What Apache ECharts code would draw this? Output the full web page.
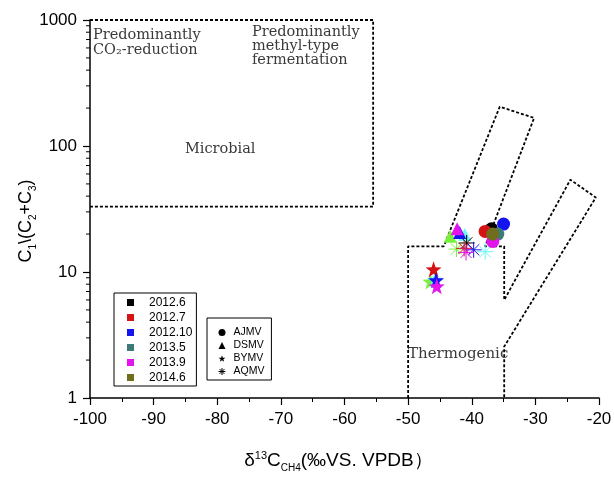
<!DOCTYPE html>
<html>
<head>
<meta charset="utf-8">
<script src="https://cdn.jsdelivr.net/npm/echarts@6/dist/echarts.min.js"></script>
<style>
  html, body { margin: 0; padding: 0; background: #fff; }
  #chart { width: 614px; height: 477px; }
</style>
</head>
<body>
<div id="chart"></div>
<script>
// Sampling campaigns and gas-source sites
const dateNames = ['2012.6', '2012.7', '2012.10', '2013.5', '2013.9', '2014.6'];
const siteNames = ['AJMV', 'DSMV', 'BYMV', 'AQMV'];

// δ13C-CH4 (x) and C1/(C2+C3) (y), one entry per site in siteNames order
const x_2012_6 = [-36.9, null, null, -40.8];
const y_2012_6 = [22.0, null, null, 17.0];
const x_2012_7 = [-37.9, null, -46.0, -41.2];
const y_2012_7 = [21.0, null, 10.5, 15.4];
const x_2012_10 = [-35.0, -41.9, -45.6, -39.7];
const y_2012_10 = [24.0, 20.6, 8.6, 15.0];
const x_2013_5 = [-35.9, null, null, null];
const y_2013_5 = [20.0, null, null, null];
const x_2013_9 = [-36.7, -42.3, -45.5, -40.9];
const y_2013_9 = [17.5, 22.0, 7.7, 14.3];
const x_2014_6 = [-36.7, null, null, null];
const y_2014_6 = [20.0, null, null, null];
// extra samples drawn in light green and cyan
const x_lime = [null, -43.4, -46.5, -42.4];
const y_lime = [null, 19.2, 8.4, 15.2];
const x_cyan = [null, -41.1, -45.8, -37.9];
const y_cyan = [null, 19.8, 8.7, 14.5];

// Genetic-field boundaries
const microbialX = [-100, -55.5, -55.5, -100];
const microbialY = [1000, 1000, 33, 33];
const thermoX = [-50, -50, -44.4, -35.6, -30.2, -37.9, -34.9, -34.9, -24.5, -20.5, -34.9, -34.9];
const thermoY = [1, 16, 16, 205, 167, 16, 16, 6.0, 54, 39, 2.56, 1];

// log-axis minor tick values
const yMinorTicks = [2, 3, 4, 5, 6, 7, 8, 9, 20, 30, 40, 50, 60, 70, 80, 90, 200, 300, 400, 500, 600, 700, 800, 900];

// symbol shapes
function starPath() {
  let d = '';
  for (let i = 0; i < 10; i++) {
    const r = i % 2 ? 4 : 10;
    const a = -Math.PI / 2 + i * Math.PI / 5;
    d += (i ? 'L' : 'M') + (r * Math.cos(a)).toFixed(2) + ',' + (r * Math.sin(a)).toFixed(2);
  }
  return 'path://' + d + 'Z';
}
const STAR = starPath();
const ASTER = 'path://M0,-10L0,10M-10,0L10,0M-7.07,-7.07L7.07,7.07M-7.07,7.07L7.07,-7.07';

const siteSymbol = ['circle', 'triangle', STAR, ASTER];
const siteSize = [13, 13, 16, 16];

const dateColors = ['#000000', '#d41414', '#1414f0', '#3d7b78', '#e414ec', '#6e6e1c'];

function pointSeries(name, color, xs, ys) {
  const data = [];
  xs.forEach((x, i) => {
    if (x == null) return;
    const item = { value: [x, ys[i]], symbol: siteSymbol[i], symbolSize: siteSize[i] };
    if (i === 3) item.itemStyle = { color: color, borderColor: color, borderWidth: 1 };
    data.push(item);
  });
  return {
    type: 'scatter', name: name, data: data, z: 5,
    itemStyle: { color: color, opacity: 1 }, silent: true
  };
}

function boundary(xs, ys) {
  const pts = xs.map((x, i) => [x, ys[i]]);
  return {
    type: 'line', data: pts, showSymbol: false, symbol: 'none', clip: false, silent: true, z: 2,
    lineStyle: { color: '#000', width: 1.8, type: [3, 2] }
  };
}

const chart = echarts.init(document.getElementById('chart'), null, { renderer: 'canvas' });

const series = [
  boundary(microbialX, microbialY),
  boundary(thermoX, thermoY),
  pointSeries('lime', '#77f23c', x_lime, y_lime),
  pointSeries('cyan', '#70f6f6', x_cyan, y_cyan),
  pointSeries('2012.6', dateColors[0], x_2012_6, y_2012_6),
  pointSeries('2012.7', dateColors[1], x_2012_7, y_2012_7),
  pointSeries('2012.10', dateColors[2], x_2012_10, y_2012_10),
  pointSeries('2013.5', dateColors[3], x_2013_5, y_2013_5),
  pointSeries('2013.9', dateColors[4], x_2013_9, y_2013_9),
  pointSeries('2014.6', dateColors[5], x_2014_6, y_2014_6),
  {
    type: 'custom', silent: true, clip: false, z: 3,
    data: yMinorTicks.map(v => [-100, v]),
    renderItem: function (params, api) {
      const p = api.coord([api.value(0), api.value(1)]);
      return {
        type: 'line',
        shape: { x1: p[0] - 4, y1: p[1], x2: p[0], y2: p[1] },
        style: { stroke: '#000', lineWidth: 1 }
      };
    }
  }
];
siteNames.forEach((n, i) => {
  series.push({
    type: 'scatter', name: n, data: [],
    itemStyle: { color: '#000', opacity: 1, borderColor: '#000', borderWidth: i === 3 ? 1 : 0 }
  });
});

const SANS = '"Liberation Sans", Arial, sans-serif';
const SERIF = '"DejaVu Serif", serif';
const labelFont = { fontFamily: SANS, fontSize: 17, color: '#000' };

chart.setOption({
  animation: false,
  grid: { left: 90, right: 15, top: 20, bottom: 79, containLabel: false, outerBoundsMode: 'none' },
  xAxis: {
    type: 'value', min: -100, max: -20, interval: 10,
    axisLine: { show: true, onZero: false, lineStyle: { color: '#000', width: 1.5 } },
    axisTick: { show: true, length: 7, lineStyle: { color: '#000', width: 1.2 } },
    minorTick: { show: true, splitNumber: 2, length: 4, lineStyle: { color: '#000', width: 1 } },
    splitLine: { show: false },
    axisLabel: Object.assign({ margin: 13 }, labelFont),
    name: 'δ{sup|13}C{sub|CH4}(‰VS. VPDB）',
    nameLocation: 'middle', nameGap: 50, nameMoveOverlap: false,
    nameTextStyle: {
      fontFamily: SANS, fontSize: 19, color: '#000',
      lineHeight: 26, padding: [0, 12, 0, 0],
      rich: {
        sup: { fontSize: 11, verticalAlign: 'top', padding: [2, 0, 0, 0], fontFamily: SANS, color: '#000' },
        sub: { fontSize: 10, verticalAlign: 'bottom', padding: [0, 0, 1, 0], fontFamily: SANS, color: '#000' }
      }
    }
  },
  yAxis: {
    type: 'log', logBase: 10, min: 1, max: 1000,
    axisLine: { show: true, lineStyle: { color: '#000', width: 1.5 } },
    axisTick: { show: true, length: 7, lineStyle: { color: '#000', width: 1.2 } },
    splitLine: { show: false },
    axisLabel: Object.assign({ margin: 13, formatter: v => String(v) }, labelFont),
    name: 'C{sub|1}\\(C{sub|2}+C{sub|3})',
    nameLocation: 'middle', nameGap: 52, nameRotate: 90, nameMoveOverlap: false,
    nameTextStyle: {
      fontFamily: SANS, fontSize: 18, color: '#000',
      lineHeight: 24, padding: [0, 24, 0, 0],
      rich: {
        sub: { fontSize: 10, verticalAlign: 'bottom', fontFamily: SANS, color: '#000' }
      }
    }
  },
  legend: [
    {
      data: dateNames.map(n => ({ name: n, icon: 'rect' })),
      orient: 'vertical', left: 114, top: 293,
      itemWidth: 7, itemHeight: 7, itemGap: 0,
      selectedMode: false,
      textStyle: { fontFamily: SANS, fontSize: 12, color: '#000', lineHeight: 15, padding: [0, 0, 0, 10] },
      borderColor: '#000', borderWidth: 1, borderRadius: 0, padding: [2, 4, 1, 13]
    },
    {
      data: siteNames.map((n, i) => (i === 3
        ? { name: n, icon: siteSymbol[i], itemStyle: { color: '#000', borderColor: '#000', borderWidth: 1 } }
        : { name: n, icon: siteSymbol[i] })),
      orient: 'vertical', left: 207, top: 318,
      itemWidth: 7, itemHeight: 7, itemGap: 0,
      selectedMode: false,
      textStyle: { fontFamily: SANS, fontSize: 10.5, color: '#000', lineHeight: 13, padding: [0, 0, 0, 3] },
      borderColor: '#000', borderWidth: 1, borderRadius: 0, padding: [8, 7, 2, 11]
    }
  ],
  graphic: [
    {
      type: 'text', left: 93, top: 28, silent: true,
      style: { text: 'Predominantly\nCO₂-reduction', font: '14.5px ' + SERIF, fill: '#3a3a3a', lineHeight: 14.3 }
    },
    {
      type: 'text', left: 252, top: 24.5, silent: true,
      style: { text: 'Predominantly\nmethyl-type\nfermentation', font: '14.5px ' + SERIF, fill: '#3a3a3a', lineHeight: 14.3 }
    },
    {
      type: 'text', left: 185, top: 142, silent: true,
      style: { text: 'Microbial', font: '14.5px ' + SERIF, fill: '#3a3a3a' }
    },
    {
      type: 'text', left: 408, top: 347, silent: true,
      style: { text: 'Thermogenic', font: '15px ' + SERIF, fill: '#3a3a3a' }
    }
  ],
  series: series
});
</script>
</body>
</html>
